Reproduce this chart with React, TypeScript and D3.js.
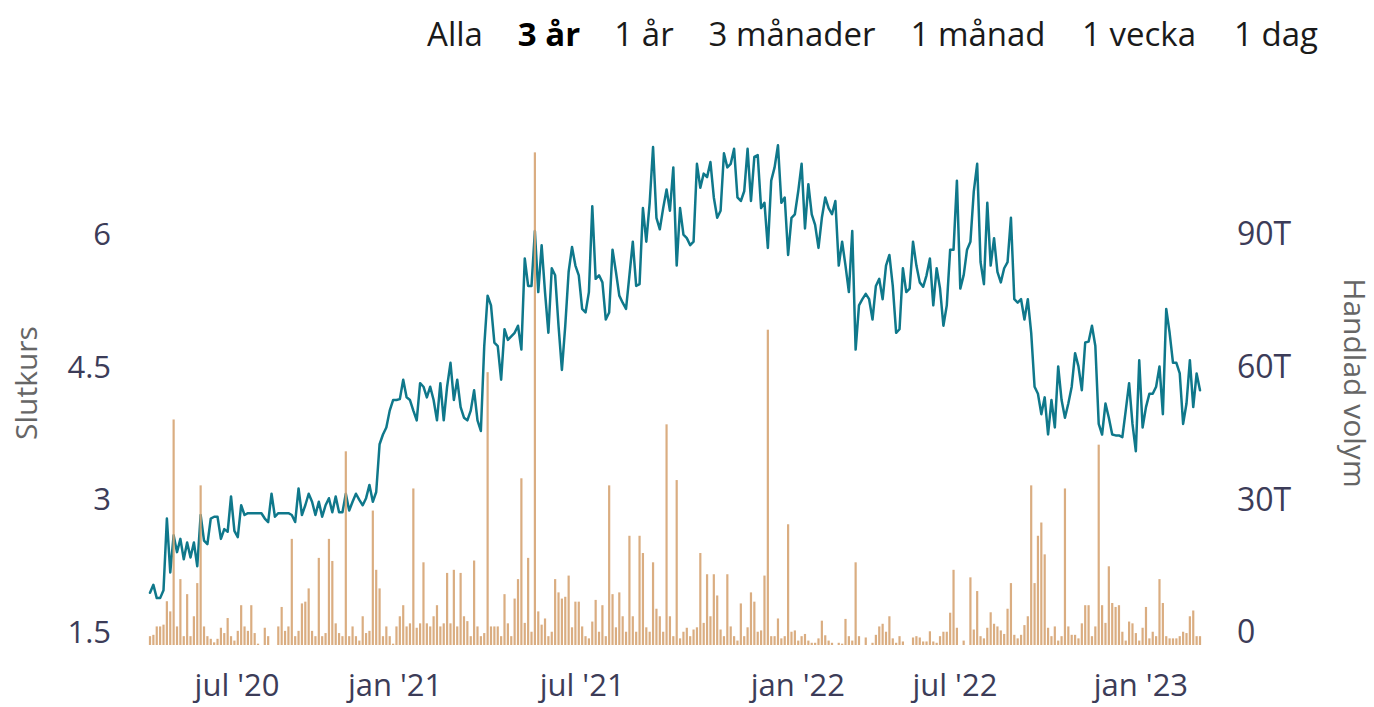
import React from "react";
import * as d3 from "d3";

// ---- data ----
const rangeButtons = ["Alla", "3 år", "1 år", "3 månader", "1 månad", "1 vecka", "1 dag"];
const activeRange = "3 år";
const buttonCenters = [455, 549, 644, 792, 978, 1139, 1276];

const priceTicks = [1.5, 3, 4.5, 6];
const volumeTicks = [0, 30, 60, 90]; // thousands of shares
const volumeTickLabels = ["0", "30T", "60T", "90T"];

// ordinal (trading-session) axis: month labels sit at these session indices
const monthLabels = ["jul '20", "jan '21", "jul '21", "jan '22", "jul '22", "jan '23"];
const monthSession = [25.8, 72.6, 128, 191.9, 238.4, 293.5];

// closing price, sampled sessions
const closes = [
  2.09, 2.18, 2.03, 2.03, 2.12, 2.93, 2.32, 2.74, 2.55, 2.70,
  2.47, 2.66, 2.49, 2.66, 2.39, 2.97, 2.68, 2.64, 2.93, 2.95,
  2.95, 2.70, 2.81, 2.78, 3.18, 2.79, 2.72, 3.08, 2.97, 2.99,
  2.99, 2.99, 2.99, 2.99, 2.93, 2.89, 3.21, 2.95, 2.99, 2.99,
  2.99, 2.99, 2.97, 2.89, 3.27, 2.97, 3.08, 3.21, 3.12, 2.97,
  3.12, 2.95, 3.08, 3.16, 3.00, 3.18, 3.00, 3.00, 3.21, 3.02,
  3.12, 3.21, 3.14, 3.08, 3.16, 3.31, 3.12, 3.23, 3.77, 3.88,
  3.96, 4.15, 4.27, 4.27, 4.28, 4.50, 4.30, 4.27, 4.15, 4.04,
  4.46, 4.42, 4.30, 4.42, 4.27, 4.04, 4.46, 4.04, 4.42, 4.69,
  4.27, 4.50, 4.19, 4.07, 4.04, 4.15, 4.38, 4.04, 3.92, 4.88,
  5.45, 5.34, 4.92, 4.88, 4.50, 5.07, 4.95, 4.99, 5.03, 5.11,
  // 2021
  4.84, 5.87, 5.56, 5.56, 6.18, 5.49, 6.02, 5.49, 5.03, 5.76,
  5.68, 5.11, 4.61, 5.11, 5.72, 6.00, 5.79, 5.68, 5.30, 5.26,
  5.49, 6.46, 5.64, 5.68, 5.60, 5.18, 5.26, 5.97, 5.72, 5.45,
  5.37, 5.30, 5.68, 6.06, 5.56, 5.58, 6.44, 6.06, 6.50, 7.13,
  6.33, 6.20, 6.44, 6.65, 6.41, 6.90, 5.79, 6.44, 6.14, 6.10,
  6.02, 6.06, 6.94, 6.67, 6.83, 6.79, 6.96, 6.56, 6.33, 6.41,
  7.06, 6.90, 6.94, 7.11, 6.56, 6.52, 6.63, 7.11, 6.52, 7.02,
  7.04, 6.44, 6.50, 5.99, 6.75, 6.90, 7.15, 6.50, 6.56, 5.91,
  6.33, 6.37, 6.63, 6.94, 6.21, 6.71, 6.37, 6.25, 5.99, 6.33,
  6.56, 6.44, 6.37, 6.52, 5.79, 6.06, 5.79, 5.49, 6.18, 4.84,
  5.34, 5.41, 5.47, 5.41, 5.18, 5.56,
  // 2022
  5.64, 5.41, 5.79, 5.91, 5.56, 5.03, 5.07, 5.76, 5.49, 5.53,
  6.06, 5.79, 5.60, 5.55, 5.68, 5.87, 5.34, 5.76, 5.53, 5.11,
  5.34, 5.97, 5.97, 6.75, 5.53, 5.68, 5.97, 6.06, 6.63, 6.94,
  5.83, 5.58, 6.50, 5.79, 6.10, 5.72, 5.60, 5.76, 5.83, 6.33,
  5.41, 5.37, 5.41, 5.18, 5.41, 5.03, 4.42, 4.34, 4.11, 4.30,
  3.88, 4.27, 3.96, 4.65, 4.27, 4.07, 4.23, 4.42, 4.80, 4.65,
  4.38, 4.92, 4.93, 5.11, 4.88, 4.00, 3.88, 4.23, 4.07, 3.88,
  3.87, 3.87, 3.85, 4.15, 4.46, 4.00, 3.69, 4.72, 3.96, 4.19,
  4.34, 4.34, 4.42, 4.65, 4.11, 5.30, 5.03, 4.69, 4.69, 4.57,
  4.00, 4.23, 4.72, 4.19, 4.57, 4.38,
];

// traded volume (thousands), same sessions
const volumes = [
  2, 2.3, 4.2, 4.2, 4.6, 9.9, 7.6, 51, 4.2, 14.9,
  2, 11.5, 2, 6.5, 14, 36.1, 4.2, 2, 1.4, 0.6,
  1.4, 3.9, 2.7, 6.1, 2, 1, 3.2, 9, 4.2, 3.2,
  9, 2.7, 0.3, 0, 3.9, 2, 0, 0, 4.2, 8.6,
  3.2, 4.2, 24, 2, 3.2, 9.4, 9.8, 12.8, 3.2, 2,
  19.7, 2, 2.7, 24, 19, 4.9, 2.7, 2, 43.8, 2,
  4.2, 2, 1, 6.5, 2.7, 3.2, 30.4, 17, 12.8, 2,
  4.2, 2, 0.3, 4.2, 6.5, 9, 4.2, 4.9, 35.4, 3.9,
  4.9, 18.7, 4.9, 4.2, 6.5, 9, 4.2, 4.9, 16.3, 4.9,
  17, 4.2, 16.3, 6.5, 5.4, 2, 19.1, 4.2, 2, 2.7,
  61.7, 4.2, 4.2, 4.2, 2, 11.5, 4.9, 2, 10.5, 14.9,
  // 2021
  37.7, 5, 19.7, 3, 111.4, 7.6, 4.6, 6, 2, 3,
  14.9, 11.9, 10.5, 10.9, 15.7, 4, 9.8, 9.8, 4.2, 2,
  1.5, 5.3, 10.2, 3, 9, 2, 36.1, 11.5, 4, 11.9,
  6.5, 3, 24.7, 6.5, 3, 24.7, 20.8, 4, 3, 18.7,
  8.2, 6.5, 3, 49.9, 6.5, 2, 37.3, 1.5, 3, 3.9,
  2, 3.5, 4, 20.8, 5, 16, 6.5, 16, 11.2, 3.5,
  2, 16, 4.2, 2, 1, 9.4, 2, 4, 11.9, 9.8,
  3, 3.3, 15.7, 71.3, 2, 2, 6, 1.5, 2, 27.3,
  3, 3.3, 1, 2, 2.5, 1, 0.5, 0.5, 1.5, 5.5,
  2.2, 1, 0.5, 0, 0.5, 0.3, 5.9, 2, 1, 18.7,
  2, 0, 1.7, 0, 0.5, 2.3,
  // 2022
  4.2, 4.8, 3, 6.5, 1.5, 0.5, 2, 0.8, 0, 0,
  1.7, 2, 1.7, 0.8, 0.8, 3.1, 0.8, 0.5, 2, 3,
  3, 7.3, 17, 3.9, 0, 1, 0, 15.3, 3.5, 12.2,
  2, 1.5, 3.9, 7.4, 4.8, 4.2, 3.3, 2.5, 8.2, 14,
  2.3, 1.5, 2.3, 4.5, 6.5, 36.1, 14, 24.7, 27.7, 20.5,
  3.9, 2, 4.2, 1, 2, 35.4, 4.2, 2.3, 2.3, 1.5,
  4.9, 9, 9, 2, 4.2, 45.3, 9, 5, 17.8, 9.5,
  8.6, 9, 3, 1, 5.3, 4.9, 2.7, 1, 3.9, 8.6,
  1.5, 3, 2, 14.9, 9.5, 2, 1.5, 1.5, 1.5, 2,
  3, 2.7, 6.5, 7.8, 2, 2,
];

// ---- styles ----
const FONT = "'Open Sans', 'Noto Sans', sans-serif";
const LINE_COLOR = "#0f788b";
const BAR_COLOR = "#d6a473";
const TICK_COLOR = "#3c3c58";
const TITLE_COLOR = "#666666";

export default function App() {
  const W = 1374;
  const H = 707;
  const plotLeft = 150;
  const plotRight = 1200;
  const baseY = 645;
  const topTickY = 247;
  const labelShift = -13;

  const n = closes.length;
  const x = d3.scaleLinear().domain([0, n - 1]).range([plotLeft, plotRight]);
  const yPrice = d3.scaleLinear().domain([1.5, 6]).range([baseY, topTickY]);
  const yVol = d3.scaleLinear().domain([0, 90]).range([baseY, topTickY]);

  const linePath = d3
    .line<number>()
    .x((_, i) => x(i))
    .y((d) => yPrice(d))(closes) as string;

  const barW = 2.2;

  return (
    <svg
      width={W}
      height={H}
      viewBox={`0 0 ${W} ${H}`}
      style={{ position: "absolute", left: 0, top: 0, display: "block", background: "#fff" }}
      fontFamily={FONT}
    >
      {/* range selector */}
      <g>
        {rangeButtons.map((b, i) => (
          <text
            key={b}
            x={buttonCenters[i]}
            y={46}
            textAnchor="middle"
            fontSize={33}
            fontWeight={b === activeRange ? 700 : 400}
            fill={b === activeRange ? "#000" : "#1a1a1a"}
          >
            {b}
          </text>
        ))}
      </g>

      {/* price line */}
      <path
        d={linePath}
        fill="none"
        stroke={LINE_COLOR}
        strokeWidth={2.5}
        strokeLinejoin="round"
        strokeLinecap="round"
      />

      {/* volume bars */}
      <g fill={BAR_COLOR} fillOpacity={0.9}>
        {volumes.map((v, i) =>
          v > 0 ? (
            <rect
              key={i}
              x={x(i) - barW / 2}
              y={yVol(v)}
              width={barW}
              height={baseY - yVol(v)}
            />
          ) : null
        )}
      </g>

      {/* left axis labels */}
      <g fontSize={31} fill={TICK_COLOR} textAnchor="end">
        {priceTicks.map((t) => (
          <text key={t} x={111} y={yPrice(t) + labelShift} dy="0.35em">
            {String(t)}
          </text>
        ))}
      </g>

      {/* right axis labels */}
      <g fontSize={32} fill={TICK_COLOR} textAnchor="start">
        {volumeTicks.map((t, i) => (
          <text key={t} x={1237} y={yVol(t) + labelShift} dy="0.35em">
            {volumeTickLabels[i]}
          </text>
        ))}
      </g>

      {/* x axis labels */}
      <g fontSize={31} fill={TICK_COLOR} textAnchor="middle">
        {monthLabels.map((m, i) => (
          <text key={m} x={x(monthSession[i])} y={696}>
            {m}
          </text>
        ))}
      </g>

      {/* axis titles */}
      <text
        transform="translate(26,383) rotate(-90)"
        textAnchor="middle"
        dy="0.35em"
        fontSize={30}
        fill={TITLE_COLOR}
      >
        Slutkurs
      </text>
      <text
        transform="translate(1354,383) rotate(90)"
        textAnchor="middle"
        dy="0.35em"
        fontSize={30}
        fill={TITLE_COLOR}
      >
        Handlad volym
      </text>
    </svg>
  );
}
